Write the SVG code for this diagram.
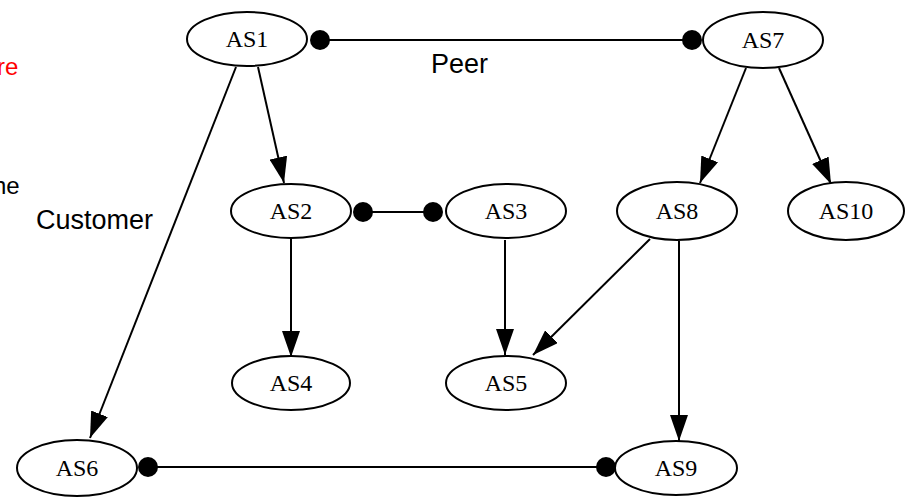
<svg xmlns="http://www.w3.org/2000/svg" width="906" height="498" viewBox="0 0 906 498">
<style>
.node ellipse{fill:#fff;stroke:#000;stroke-width:2}
.node text{font-family:"Liberation Serif","DejaVu Serif",serif;font-size:24px;fill:#000;text-anchor:middle}
.edge{stroke:#000;stroke-width:2;fill:none}
.arrow{marker-end:url(#ah)}
.dot{fill:#000}
.lbl{font-family:"Liberation Sans",Arial,sans-serif;font-size:27px;fill:#000}
.side{font-family:"Liberation Sans",Arial,sans-serif;font-size:24px}
</style>
<defs>
<marker id="ah" markerUnits="userSpaceOnUse" markerWidth="26" markerHeight="18" refX="26" refY="9" orient="auto">
<path d="M0,0 L26,9 L0,18 z" fill="#000"/>
</marker>
</defs>
<rect width="906" height="498" fill="#fff"/>
<text class="side" x="-3" y="75" fill="#f00">re</text>
<text class="side" x="-7" y="194" fill="#000">he</text>
<g id="connectors">
<line class="edge" x1="320" y1="40" x2="692" y2="40"/>
<line class="edge" x1="363" y1="212" x2="433" y2="212"/>
<line class="edge" x1="148" y1="467" x2="606" y2="467"/>
<line class="edge arrow" x1="258" y1="67" x2="284" y2="183"/>
<line class="edge arrow" x1="236" y1="67" x2="90" y2="438"/>
<line class="edge arrow" x1="746" y1="68" x2="700" y2="183"/>
<line class="edge arrow" x1="779" y1="68" x2="831" y2="184"/>
<line class="edge arrow" x1="291" y1="239" x2="291" y2="357"/>
<line class="edge arrow" x1="505" y1="240" x2="505" y2="355"/>
<line class="edge arrow" x1="650" y1="239" x2="533" y2="355"/>
<line class="edge arrow" x1="679" y1="241" x2="679" y2="441"/>
<circle class="dot" cx="320" cy="40" r="10"/>
<circle class="dot" cx="692" cy="40" r="10"/>
<circle class="dot" cx="363" cy="212" r="10"/>
<circle class="dot" cx="433" cy="212" r="10"/>
<circle class="dot" cx="148" cy="467" r="10"/>
<circle class="dot" cx="606" cy="467" r="10"/>
</g>
<text class="lbl" x="431" y="73">Peer</text>
<text class="lbl" x="36" y="229">Customer</text>
<g id="AS1" class="node"><ellipse cx="247" cy="39" rx="60" ry="27"/><text x="247" y="47">AS1</text></g>
<g id="AS7" class="node"><ellipse cx="763" cy="40" rx="60" ry="28"/><text x="763" y="48">AS7</text></g>
<g id="AS2" class="node"><ellipse cx="291" cy="211" rx="60" ry="27"/><text x="291" y="219">AS2</text></g>
<g id="AS3" class="node"><ellipse cx="506" cy="211" rx="60" ry="27"/><text x="506" y="219">AS3</text></g>
<g id="AS8" class="node"><ellipse cx="677" cy="211" rx="60" ry="29"/><text x="677" y="219">AS8</text></g>
<g id="AS10" class="node"><ellipse cx="846" cy="211" rx="58" ry="29"/><text x="846" y="219">AS10</text></g>
<g id="AS4" class="node"><ellipse cx="291" cy="383" rx="59" ry="27"/><text x="291" y="391">AS4</text></g>
<g id="AS5" class="node"><ellipse cx="506" cy="383" rx="60" ry="27"/><text x="506" y="391">AS5</text></g>
<g id="AS6" class="node"><ellipse cx="77" cy="468" rx="60" ry="28"/><text x="77" y="476">AS6</text></g>
<g id="AS9" class="node"><ellipse cx="676" cy="468" rx="61" ry="27"/><text x="676" y="476">AS9</text></g>
</svg>
